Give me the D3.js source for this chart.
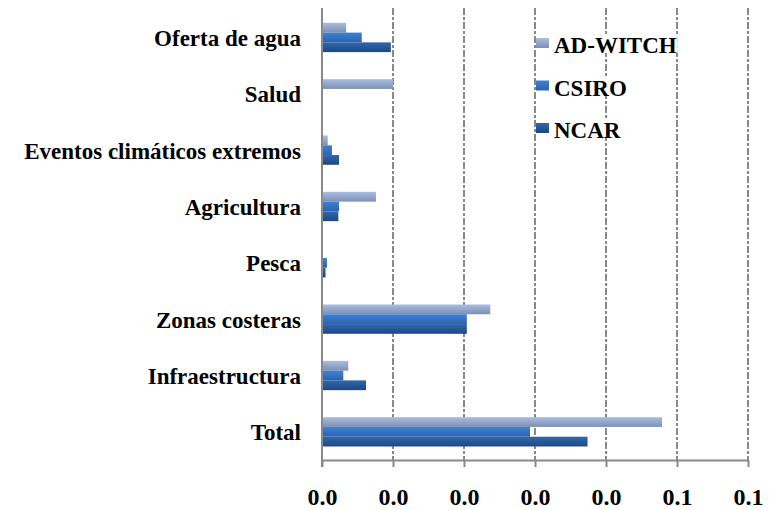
<!DOCTYPE html>
<html>
<head>
<meta charset="utf-8">
<script src="https://cdn.jsdelivr.net/npm/d3@7"></script>
<style>
  html, body { margin: 0; padding: 0; background: #ffffff; }
  svg { display: block; }
</style>
</head>
<body>
<svg id="chart" width="775" height="510"></svg>
<script>
// Sectors, top to bottom
const categories = ["Oferta de agua", "Salud", "Eventos climáticos extremos", "Agricultura",
                    "Pesca", "Zonas costeras", "Infraestructura", "Total"];
// Model series (bar order inside each group: top to bottom)
const seriesNames = ["AD-WITCH", "CSIRO", "NCAR"];
const adWitch = [0.0034, 0.0100, 0.0008, 0.0076, 0.0000, 0.0237, 0.0037, 0.0479];
const csiro   = [0.0056, 0.0000, 0.0014, 0.0024, 0.0007, 0.0204, 0.0030, 0.0293];
const ncar    = [0.0097, 0.0000, 0.0024, 0.0023, 0.0005, 0.0204, 0.0062, 0.0374];
// X axis ticks and their printed labels
const tickValues = [0, 0.01, 0.02, 0.03, 0.04, 0.05, 0.06];
const tickLabels = ["0.0", "0.0", "0.0", "0.0", "0.0", "0.1", "0.1"];

const seriesValues = [adWitch, csiro, ncar];
const gradients = [
  ["#a9bce2", "#7e8fb2"],
  ["#3d82d6", "#2c63ae"],
  ["#2f67ae", "#1f4881"]
];

const FONT = "'Liberation Serif', 'Times New Roman', serif";
const svg = d3.select("#chart");
const plotLeft = 322, plotRight = 748, plotTop = 9.3, plotBottom = 460;
const gridColor = "#898989";

const x = d3.scaleLinear().domain([0, 0.06]).range([plotLeft, plotRight]);
const y = d3.scaleBand().domain(categories).range([plotTop, plotBottom])
  .paddingInner(0.48).paddingOuter(0.24);
const ySub = d3.scaleBand().domain(seriesNames).range([0, y.bandwidth()]);

// Vertical gradients for the bars
const defs = svg.append("defs");
seriesNames.forEach((s, i) => {
  const g = defs.append("linearGradient")
    .attr("id", "grad" + i).attr("x1", 0).attr("y1", 0).attr("x2", 0).attr("y2", 1);
  g.append("stop").attr("offset", "0%").attr("stop-color", gradients[i][0]);
  g.append("stop").attr("offset", "100%").attr("stop-color", gradients[i][1]);
});

// Dashed gridlines
svg.append("g").selectAll("line")
  .data(tickValues.slice(1))
  .join("line")
  .attr("x1", d => x(d)).attr("x2", d => x(d))
  .attr("y1", 8).attr("y2", plotBottom)
  .attr("stroke", gridColor).attr("stroke-width", 2)
  .attr("stroke-dasharray", "7,2,3,2");

// Bars
const groups = svg.append("g").selectAll("g")
  .data(categories)
  .join("g")
  .attr("transform", d => `translate(0,${y(d)})`);

groups.selectAll("rect")
  .data((c, ci) => seriesNames.map((s, si) => ({ s, si, v: seriesValues[si][ci] })))
  .join("rect")
  .attr("x", x(0))
  .attr("y", d => ySub(d.s))
  .attr("width", d => x(d.v) - x(0))
  .attr("height", ySub.bandwidth())
  .attr("fill", d => `url(#grad${d.si})`);

// Category labels
svg.append("g").selectAll("text")
  .data(categories)
  .join("text")
  .attr("x", 301)
  .attr("y", d => y(d) + y.bandwidth() / 2 + 8.5)
  .attr("text-anchor", "end")
  .attr("font-family", FONT)
  .attr("font-weight", "bold")
  .attr("font-size", 23)
  .attr("fill", "#000")
  .text(d => d);

// X axis
const xAxis = d3.axisBottom(x)
  .tickValues(tickValues)
  .tickFormat((d, i) => tickLabels[i])
  .tickSizeInner(7).tickSizeOuter(0).tickPadding(21);

const ax = svg.append("g").attr("transform", `translate(0,${plotBottom})`).call(xAxis);
ax.attr("font-family", FONT).attr("font-size", 24).attr("font-weight", "bold");
ax.select(".domain").attr("stroke", gridColor).attr("stroke-width", 2);
ax.selectAll(".tick line").attr("stroke", gridColor).attr("stroke-width", 2);
ax.selectAll(".tick text").attr("fill", "#000");

// Vertical axis line
svg.append("line")
  .attr("x1", plotLeft).attr("x2", plotLeft)
  .attr("y1", 8).attr("y2", plotBottom + 7)
  .attr("stroke", gridColor).attr("stroke-width", 2);

// Legend
const legend = svg.append("g").selectAll("g")
  .data(seriesNames)
  .join("g")
  .attr("transform", (d, i) => `translate(536,${43 + i * 42.5})`);

legend.append("rect")
  .attr("class", "bg")
  .attr("x", 17).attr("y", -9).attr("height", 19)
  .attr("fill", "#ffffff");
legend.append("rect")
  .attr("x", 0).attr("y", -5).attr("width", 13).attr("height", 10)
  .attr("fill", (d, i) => `url(#grad${i})`);
legend.append("text")
  .attr("x", 18).attr("y", 10)
  .attr("font-family", FONT)
  .attr("font-weight", "bold")
  .attr("font-size", 23)
  .attr("fill", "#000")
  .text(d => d);
legend.each(function () {
  const g = d3.select(this);
  const w = g.select("text").node().getComputedTextLength();
  g.select("rect.bg").attr("width", w + 2);
});
</script>
</body>
</html>
